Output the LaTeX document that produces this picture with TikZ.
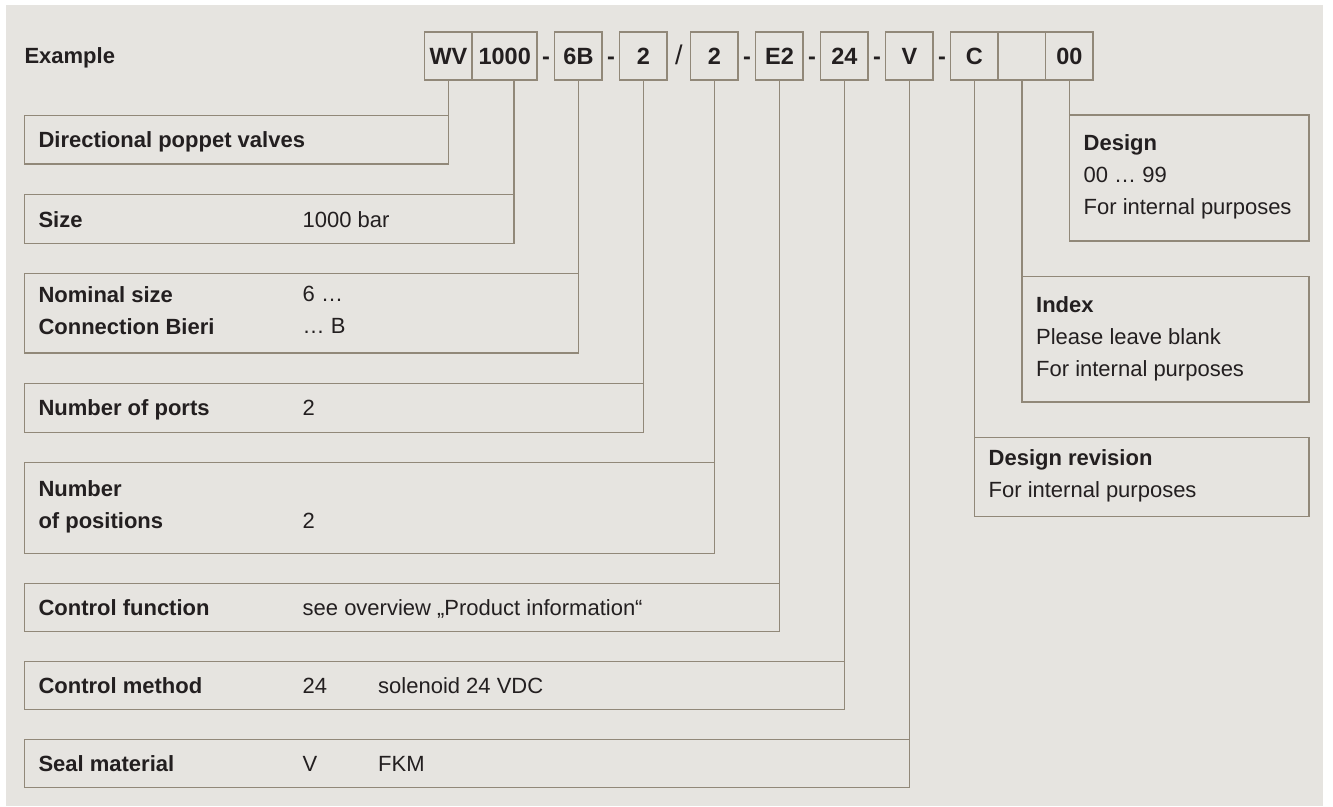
\documentclass[tikz,border=0pt]{standalone}
\usepackage{fontspec}
\setmainfont{Liberation Sans}
\usetikzlibrary{positioning}

\definecolor{bggray}{RGB}{230,228,224}
\definecolor{rimcol}{RGB}{145,136,121}
\definecolor{ink}{RGB}{35,31,32}

\tikzset{
    codebox/.style={draw=rimcol, line width=1.5pt, minimum width=47.5pt, minimum height=48pt,
        inner sep=0pt, outer sep=0pt, text=ink, font=\fontsize{23.5}{26}\selectfont\bfseries,
        text height=17pt, text depth=0pt},
    dashsep/.style={minimum width=17.5pt, minimum height=48pt, inner sep=0pt, outer sep=0pt,
        text=ink, font=\fontsize{23.5}{26}\selectfont\bfseries, text height=17pt, text depth=0pt},
    infobox/.style={draw=rimcol, line width=1.5pt, inner sep=0pt, outer sep=0pt, anchor=north west},
    lbl/.style={inner sep=0pt, align=left, text=ink, font=\fontsize{22}{32}\selectfont\bfseries,
        execute at begin node=\strut, execute at end node=\strut, yshift=-1.5pt},
    val/.style={lbl, font=\fontsize{22}{32}\selectfont},
    conn/.style={draw=rimcol, line width=1.5pt}
}

\begin{document}
\begin{tikzpicture}[x=1pt, y=-1pt]
        \useasboundingbox (0, 0) rectangle (1333, 806);
        \fill[bggray] (6, 5) rectangle (1323, 806);

        % type code
        \node[lbl, anchor=west] (ex) at (24.3, 56) {Example};
        \node[codebox] (wv) at (448.45, 56) {WV};
        \node[codebox, minimum width=65pt, right=0pt of wv] (k1000) {1000};
        \node[dashsep, right=0pt of k1000] (d1) {-};
        \node[codebox, right=0pt of d1] (k6b) {6B};
        \node[dashsep, right=0pt of k6b] (d2) {-};
        \node[codebox, right=0pt of d2] (kports) {2};
        \node[dashsep, minimum width=23.5pt, font=\fontsize{27}{30}\selectfont, right=0pt of kports] (sl) {/};
        \node[codebox, right=0pt of sl] (kpos) {2};
        \node[dashsep, right=0pt of kpos] (d3) {-};
        \node[codebox, right=0pt of d3] (ke2) {E2};
        \node[dashsep, right=0pt of ke2] (d4) {-};
        \node[codebox, right=0pt of d4] (k24) {24};
        \node[dashsep, right=0pt of k24] (d5) {-};
        \node[codebox, right=0pt of d5] (kv) {V};
        \node[dashsep, right=0pt of kv] (d6) {-};
        \node[codebox, right=0pt of d6] (kc) {C};
        \node[codebox, right=0pt of kc] (kidx) {};
        \node[codebox, right=0pt of kidx] (k00) {00};

        % left column
        \node[infobox, minimum width=424.2pt, minimum height=48.5pt] (dir) at (24.3, 115.7) {};
        \node[lbl, right=14pt of dir.west] (dirl) {Directional poppet valves};

        \node[infobox, minimum width=489.7pt, minimum height=49pt] (size) at (24.3, 194.7) {};
        \node[lbl, right=14pt of size.west] (sizel) {Size};
        \node[val, right=278.2pt of size.west] (sizev) {1000 bar};

        \node[infobox, minimum width=554.2pt, minimum height=79.3pt] (nom) at (24.3, 273.7) {};
        \node[lbl, right=14pt of nom.west] (noml) {Nominal size\\Connection Bieri};
        \node[val, right=278.2pt of nom.west] (nomv) {6 …\\… B};

        \node[infobox, minimum width=619.2pt, minimum height=49pt] (ports) at (24.3, 383.3) {};
        \node[lbl, right=14pt of ports.west] (portsl) {Number of ports};
        \node[val, right=278.2pt of ports.west] (portsv) {2};

        \node[infobox, minimum width=690.2pt, minimum height=90.6pt] (pos) at (24.3, 462.7) {};
        \node[lbl, right=14pt of pos.west] (posl) {Number\\of positions};
        \node[val, right=278.2pt of pos.west] (posv) {\phantom{2}\\2};

        \node[infobox, minimum width=755.2pt, minimum height=48.3pt] (cfun) at (24.3, 583.3) {};
        \node[lbl, right=14pt of cfun.west] (cfunl) {Control function};
        \node[val, right=278.2pt of cfun.west] (cfunv) {see overview „Product information“};

        \node[infobox, minimum width=820.2pt, minimum height=48pt] (cmeth) at (24.3, 661.7) {};
        \node[lbl, right=14pt of cmeth.west] (cmethl) {Control method};
        \node[val, right=278.2pt of cmeth.west] (cmethv) {24};
        \node[val, right=353.7pt of cmeth.west] (cmethw) {solenoid 24 VDC};

        \node[infobox, minimum width=885.2pt, minimum height=48pt] (seal) at (24.3, 739.7) {};
        \node[lbl, right=14pt of seal.west] (seall) {Seal material};
        \node[val, right=278.2pt of seal.west] (sealv) {V};
        \node[val, right=353.7pt of seal.west] (sealw) {FKM};

        % right column
        \node[infobox, minimum width=239.55pt, minimum height=126pt] (design) at (1069.45, 115) {};
        \node[val, right=14pt of design.west] (designl) {\textbf{Design}\\00 … 99\\For internal purposes};

        \node[infobox, minimum width=287.05pt, minimum height=125.3pt] (index) at (1021.95, 276.7) {};
        \node[val, right=14pt of index.west] (indexl) {\textbf{Index}\\Please leave blank\\For internal purposes};

        \node[infobox, minimum width=334.55pt, minimum height=79pt] (rev) at (974.45, 437.7) {};
        \node[val, right=14pt of rev.west] (revl) {\textbf{Design revision}\\For internal purposes};

        % connectors
        \draw[conn] (dir.north east) -- (dir.north east |- wv.south);
        \draw[conn] (size.north east) -- (size.north east |- k1000.south);
        \draw[conn] (nom.north east) -- (nom.north east |- k6b.south);
        \draw[conn] (ports.north east) -- (ports.north east |- kports.south);
        \draw[conn] (pos.north east) -- (pos.north east |- kpos.south);
        \draw[conn] (cfun.north east) -- (cfun.north east |- ke2.south);
        \draw[conn] (cmeth.north east) -- (cmeth.north east |- k24.south);
        \draw[conn] (seal.north east) -- (seal.north east |- kv.south);
        \draw[conn] (rev.north west) -- (rev.north west |- kc.south);
        \draw[conn] (index.north west) -- (index.north west |- kidx.south);
        \draw[conn] (design.north west) -- (design.north west |- k00.south);
    \end{tikzpicture}
\end{document}
